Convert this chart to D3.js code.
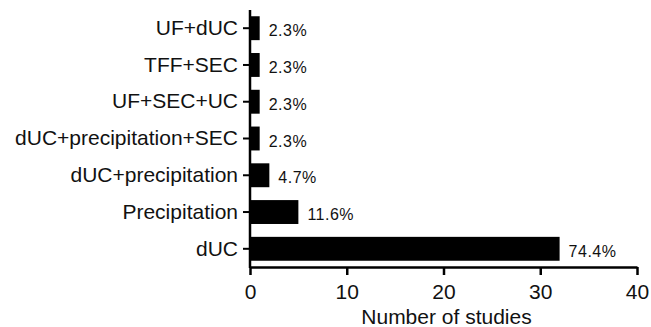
<!DOCTYPE html>
<html><head><meta charset="utf-8">
<script src="https://cdn.jsdelivr.net/npm/d3@7"></script>
<style>body{margin:0;background:#fff}svg{display:block}text{font-family:"Liberation Sans",Arial,sans-serif;fill:#111}</style>
</head><body><svg id="c" width="651" height="327"></svg>
<script>
const categories = ["UF+dUC","TFF+SEC","UF+SEC+UC","dUC+precipitation+SEC","dUC+precipitation","Precipitation","dUC"];
const counts = [1,1,1,1,2,5,32];
const percents = ["2.3%","2.3%","2.3%","2.3%","4.7%","11.6%","74.4%"];
const xTicks = [0,10,20,30,40];
const xTitle = "Number of studies";

const svg = d3.select("#c");
const x = d3.scaleLinear().domain([0,40]).range([250,637]);
const y = d3.scaleBand().domain(categories).range([10,267]).paddingInner(0.35).paddingOuter(0.17);

svg.append("g").selectAll("rect").data(categories).join("rect")
  .attr("x", x(0)).attr("y", d=>y(d))
  .attr("width", (d,i)=>x(counts[i])-x(0)).attr("height", y.bandwidth())
  .attr("fill","#000");

svg.append("g").selectAll("text").data(categories).join("text")
  .attr("x", (d,i)=>x(counts[i])+9).attr("y", d=>y(d)+y.bandwidth()/2+8)
  .attr("font-size",16).attr("letter-spacing","0.5px").text((d,i)=>percents[i]);

const gx = svg.append("g").attr("transform","translate(0,267)")
  .call(d3.axisBottom(x).tickValues(xTicks).tickSize(8).tickPadding(9).tickSizeOuter(0));
gx.select(".domain").attr("stroke","#000").attr("stroke-width",2.5);
gx.selectAll(".tick line").attr("stroke","#000").attr("stroke-width",2.5);
gx.selectAll(".tick text").attr("font-size",21).attr("font-family","Liberation Sans, Arial, sans-serif").attr("fill","#111");

const gy = svg.append("g").attr("transform","translate(250,0)")
  .call(d3.axisLeft(y).tickSize(7).tickPadding(5).tickSizeOuter(0));
gy.select(".domain").attr("stroke","#000").attr("stroke-width",2.5).attr("d","M0,10V268");
gy.selectAll(".tick line").attr("stroke","#000").attr("stroke-width",2);
gy.selectAll(".tick text").attr("font-size",21).attr("font-family","Liberation Sans, Arial, sans-serif").attr("fill","#111");

svg.append("text").attr("x",(x(0)+x(40))/2+3).attr("y",324).attr("text-anchor","middle")
  .attr("font-size",21).text(xTitle);
</script></body></html>
